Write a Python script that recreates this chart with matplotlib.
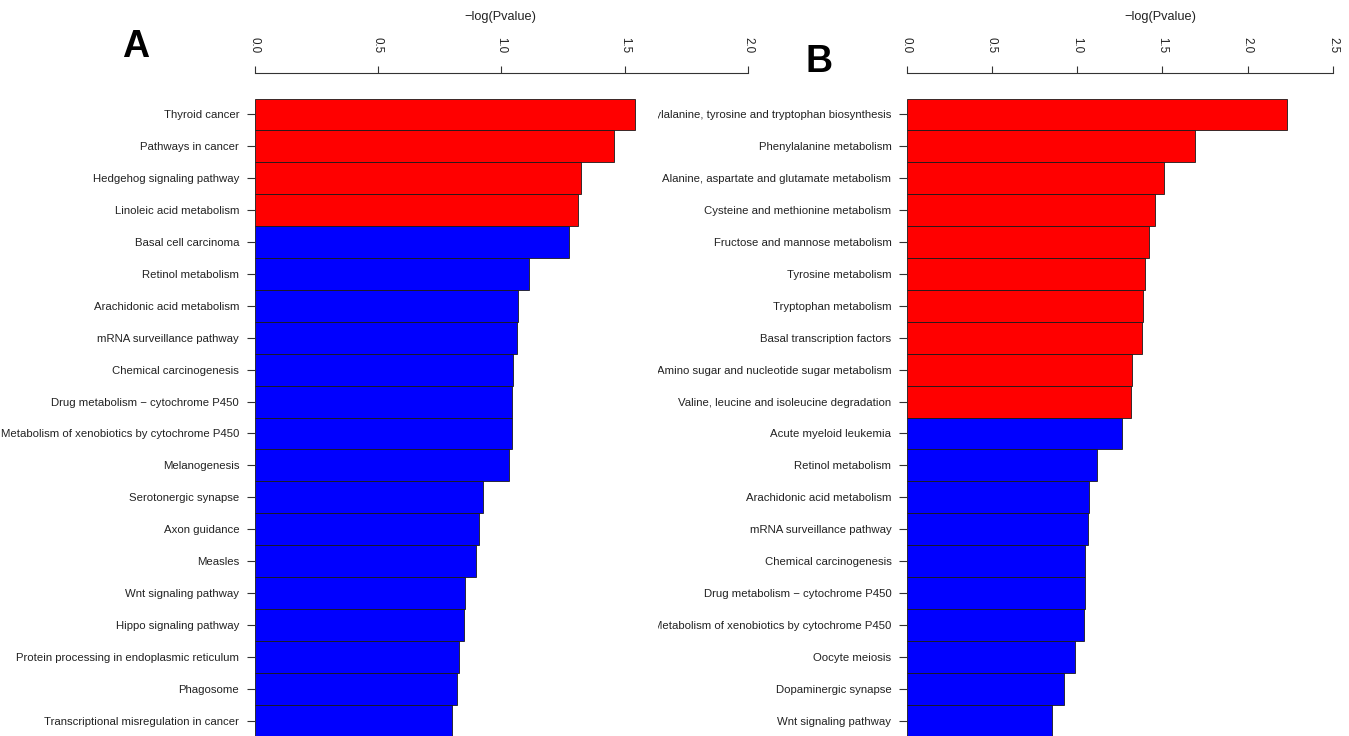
import matplotlib
matplotlib.use("Agg")
import matplotlib.pyplot as plt
from matplotlib.transforms import Bbox, TransformedBbox

plt.rcParams['font.family'] = ['Liberation Sans', 'DejaVu Sans']

# panel A
a_pathways = ["Thyroid cancer", "Pathways in cancer", "Hedgehog signaling pathway",
              "Linoleic acid metabolism", "Basal cell carcinoma", "Retinol metabolism",
              "Arachidonic acid metabolism", "mRNA surveillance pathway",
              "Chemical carcinogenesis", "Drug metabolism \u2212 cytochrome P450",
              "Metabolism of xenobiotics by cytochrome P450", "Melanogenesis",
              "Serotonergic synapse", "Axon guidance", "Measles", "Wnt signaling pathway",
              "Hippo signaling pathway", "Protein processing in endoplasmic reticulum",
              "Phagosome", "Transcriptional misregulation in cancer"]
a_values = [1.542, 1.457, 1.322, 1.311, 1.273, 1.111, 1.068, 1.064, 1.047, 1.043,
            1.042, 1.030, 0.925, 0.911, 0.897, 0.853, 0.848, 0.829, 0.821, 0.800]
a_n_up = 4
a_ticks = [0.0, 0.5, 1.0, 1.5, 2.0]

# panel B
b_pathways = ["Phenylalanine, tyrosine and tryptophan biosynthesis", "Phenylalanine metabolism",
              "Alanine, aspartate and glutamate metabolism", "Cysteine and methionine metabolism",
              "Fructose and mannose metabolism", "Tyrosine metabolism", "Tryptophan metabolism",
              "Basal transcription factors", "Amino sugar and nucleotide sugar metabolism",
              "Valine, leucine and isoleucine degradation", "Acute myeloid leukemia",
              "Retinol metabolism", "Arachidonic acid metabolism", "mRNA surveillance pathway",
              "Chemical carcinogenesis", "Drug metabolism \u2212 cytochrome P450",
              "Metabolism of xenobiotics by cytochrome P450", "Oocyte meiosis",
              "Dopaminergic synapse", "Wnt signaling pathway"]
b_values = [2.228, 1.689, 1.507, 1.455, 1.421, 1.398, 1.386, 1.380, 1.321, 1.316,
            1.263, 1.114, 1.071, 1.065, 1.048, 1.044, 1.040, 0.989, 0.924, 0.854]
b_n_up = 10
b_ticks = [0.0, 0.5, 1.0, 1.5, 2.0, 2.5]

W, H = 1349, 736


def draw_panel(fig, left_px, px_per_unit, names, values, n_up, ticks, letter, letter_xy,
               title_x, clip_left):
    xmax = ticks[-1]
    top_px = 72.7
    ax = fig.add_axes([left_px / W, 0, xmax * px_per_unit / W, (H - top_px) / H])
    colors = ["#ff0000"] * n_up + ["#0000ff"] * (len(values) - n_up)
    ax.barh(range(len(values)), values, height=1.0, color=colors,
            edgecolor="#1a1a1a", linewidth=0.6)
    ax.set_xlim(0, xmax)
    ax.set_ylim(19.483, -1.309)

    ax.xaxis.tick_top()
    ax.set_xticks(ticks)
    ax.set_xticklabels(["%.1f" % t for t in ticks], rotation=270, fontsize=8.4,
                       color="#222222")
    ax.tick_params(axis="x", length=5, pad=9, width=0.8, color="#333333")

    ax.set_yticks(range(len(names)))
    ax.set_yticklabels(names, fontsize=8.2, color="#222222")
    ax.tick_params(axis="y", length=5.5, pad=5.5, width=0.8, color="#333333")

    for s in ["left", "right", "bottom"]:
        ax.spines[s].set_visible(False)
    ax.spines["top"].set_linewidth(0.8)
    ax.spines["top"].set_color("#333333")

    clip = TransformedBbox(Bbox([[clip_left / W, 0], [1, 1]]), fig.transFigure)
    for lbl in ax.get_yticklabels():
        lbl.set_clip_on(True)
        lbl.set_clip_box(clip)

    fig.text(title_x / W, 1 - 17 / H, "\u2212log(Pvalue)", fontsize=9.2, color="#222222",
             ha="center", va="center")
    fig.text(letter_xy[0] / W, 1 - letter_xy[1] / H, letter, fontsize=27,
             fontweight="bold", ha="center", va="center")
    return ax


fig = plt.figure(figsize=(W / 100, H / 100), dpi=100)
draw_panel(fig, 254.5, 246.8, a_pathways, a_values, a_n_up, a_ticks, "A", (136, 47), 500, 0)
draw_panel(fig, 906.7, 170.5, b_pathways, b_values, b_n_up, b_ticks, "B", (819, 62), 1160, 658)
fig.savefig("out.png", dpi=100)
